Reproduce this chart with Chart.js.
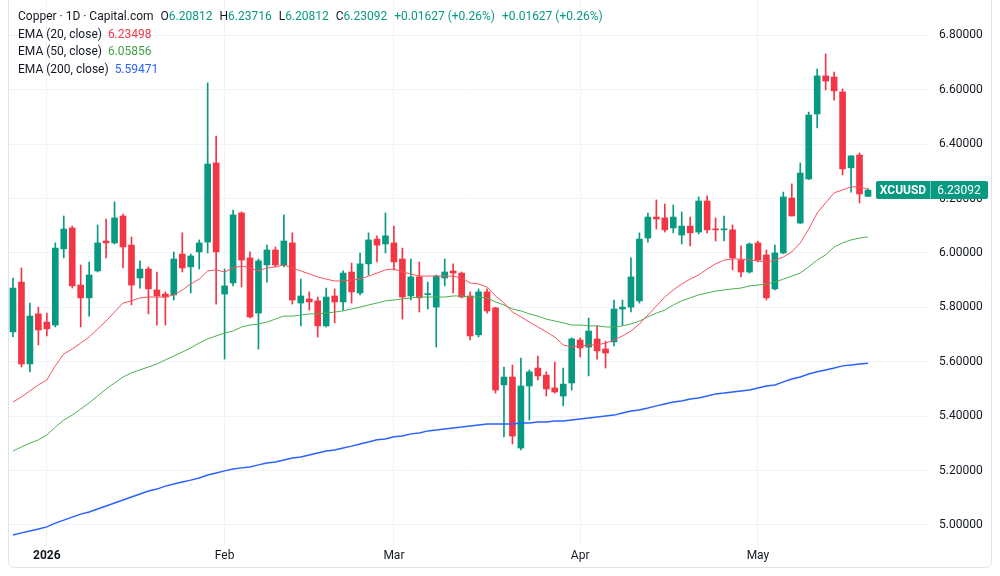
<!DOCTYPE html>
<html>
<head>
<meta charset="utf-8">
<title>Copper · 1D · Capital.com</title>
<script src="https://cdn.jsdelivr.net/npm/chart.js@4.4.1/dist/chart.umd.min.js"></script>
<style>
  html, body { margin: 0; padding: 0; background: #fff; }
  #wrap { position: relative; width: 1000px; height: 576px; }
  #legend {
    position: absolute; left: 18px; top: 8px;
    font: 12px Roboto, "Noto Sans", sans-serif; color: #131722;
    line-height: 17.6px; white-space: nowrap; pointer-events: none;
  }
  #legend .gap { margin-left: 7px; }
  #legend .up { color: #089981; }
  .ema20 { color: #F23645; }
  .ema50 { color: #43A047; }
  .ema200 { color: #2962FF; }
</style>
</head>
<body>
<div id="wrap">
  <canvas id="chart" width="1000" height="576"></canvas>
  <div id="legend">
    <div>Copper · 1D · Capital.com<span class="gap">O</span><span class="up">6.20812</span><span class="gap">H</span><span class="up">6.23716</span><span class="gap">L</span><span class="up">6.20812</span><span class="gap">C</span><span class="up">6.23092</span><span class="gap up">+0.01627 (+0.26%)</span><span class="gap up">+0.01627 (+0.26%)</span></div>
    <div>EMA (20, close)&nbsp; <span class="ema20">6.23498</span></div>
    <div>EMA (50, close)&nbsp; <span class="ema50">6.05856</span></div>
    <div>EMA (200, close)&nbsp; <span class="ema200">5.59471</span></div>
  </div>
</div>
<script>
// ── Data (daily candles, late Dec 2025 → 20 May 2026) ──

var opens = [5.710,5.893,5.592,5.776,5.746,5.735,6.015,6.092,5.882,5.835,
  5.934,6.044,6.037,6.136,6.029,5.908,5.941,5.864,5.849,5.846,
  5.996,5.949,6.004,6.040,6.331,5.849,5.890,6.147,5.982,5.779,
  5.956,6.011,5.956,6.037,5.816,5.831,5.824,5.732,5.842,5.820,
  5.930,5.853,5.960,6.051,6.033,6.037,5.978,5.842,5.912,5.847,
  5.801,5.908,5.934,5.926,5.842,5.699,5.857,5.798,5.515,5.544,
  5.283,5.511,5.577,5.551,5.504,5.474,5.522,5.680,5.654,5.684,
  5.647,5.673,5.794,5.801,5.824,6.055,6.132,6.129,6.092,6.066,
  6.099,6.077,6.191,6.088,6.085,6.085,5.974,5.930,6.037,5.993,
  5.868,6.000,6.202,6.110,6.272,6.511,6.651,6.647,6.592,6.313,
  6.360,6.20812];

var highs = [5.908,5.945,5.816,5.801,5.779,6.037,6.136,6.099,5.956,5.967,
  6.103,6.125,6.188,6.143,6.059,5.971,5.949,5.930,5.857,6.004,
  6.074,5.996,6.048,6.625,6.430,5.941,6.158,6.151,6.004,5.978,
  6.029,6.022,6.140,6.074,5.904,5.857,5.838,5.871,5.868,5.934,
  5.963,6.000,6.074,6.063,6.147,6.099,6.018,5.978,5.967,5.893,
  5.919,5.978,5.960,5.930,5.857,5.868,5.868,5.801,5.581,5.588,
  5.614,5.570,5.621,5.563,5.599,5.577,5.688,5.688,5.761,5.732,
  5.676,5.827,5.827,5.982,6.074,6.147,6.195,6.180,6.176,6.151,
  6.132,6.206,6.210,6.129,6.136,6.103,6.026,6.037,6.044,6.011,
  6.029,6.224,6.254,6.331,6.518,6.676,6.732,6.665,6.603,6.357,
  6.368,6.23716];

var lows = [5.692,5.581,5.563,5.662,5.695,5.728,5.982,5.871,5.728,5.768,
  5.930,5.982,6.033,5.945,5.809,5.871,5.776,5.735,5.735,5.827,
  5.930,5.853,5.941,6.000,5.812,5.610,5.879,5.875,5.761,5.647,
  5.893,5.949,5.949,5.812,5.732,5.790,5.691,5.728,5.743,5.790,
  5.816,5.846,5.919,5.967,6.000,5.938,5.757,5.827,5.783,5.794,
  5.654,5.879,5.853,5.835,5.680,5.691,5.779,5.485,5.324,5.298,
  5.276,5.386,5.533,5.474,5.485,5.438,5.496,5.618,5.548,5.610,
  5.577,5.658,5.735,5.783,5.816,6.040,6.088,6.077,6.074,6.033,
  6.026,6.070,6.074,6.044,6.044,5.938,5.912,5.926,5.967,5.827,
  5.864,5.997,6.136,6.108,6.270,6.460,6.599,6.562,6.287,6.224,
  6.184,6.20812];

var closes = [5.871,5.592,5.768,5.717,5.721,6.018,6.088,5.879,5.835,5.919,
  6.037,6.037,6.129,6.022,5.882,5.941,5.868,5.842,5.838,5.978,
  5.945,5.989,6.037,6.327,6.004,5.879,6.140,5.974,5.765,5.971,
  6.011,5.956,6.044,5.827,5.842,5.820,5.732,5.838,5.820,5.926,
  5.857,5.960,6.048,6.029,6.063,5.967,5.838,5.912,5.835,5.849,
  5.915,5.930,5.926,5.838,5.695,5.857,5.787,5.496,5.544,5.327,
  5.511,5.563,5.548,5.500,5.489,5.518,5.684,5.651,5.713,5.640,
  5.632,5.794,5.801,5.912,6.051,6.132,6.125,6.085,6.132,6.099,
  6.074,6.191,6.085,6.085,6.088,5.982,5.930,6.033,5.974,5.835,
  6.000,6.206,6.136,6.294,6.507,6.651,6.632,6.596,6.309,6.357,
  6.217,6.23092];

var ema20 = [5.452,5.471,5.493,5.515,5.533,5.585,5.629,5.647,5.669,5.691,
  5.721,5.750,5.783,5.816,5.824,5.835,5.838,5.838,5.838,5.846,
  5.864,5.886,5.904,5.934,5.938,5.930,5.945,5.952,5.945,5.934,
  5.945,5.949,5.956,5.945,5.934,5.923,5.912,5.904,5.897,5.897,
  5.901,5.904,5.915,5.926,5.938,5.941,5.930,5.923,5.915,5.915,
  5.915,5.915,5.915,5.908,5.890,5.886,5.875,5.842,5.816,5.783,
  5.765,5.746,5.728,5.710,5.691,5.662,5.654,5.658,5.662,5.662,
  5.669,5.680,5.695,5.713,5.739,5.772,5.805,5.838,5.864,5.886,
  5.904,5.919,5.941,5.960,5.974,5.978,5.978,5.974,5.971,5.967,
  5.974,5.985,6.004,6.037,6.088,6.147,6.184,6.221,6.232,6.243,
  6.243,6.235];

var ema50 = [5.272,5.287,5.301,5.313,5.331,5.360,5.386,5.404,5.426,5.449,
  5.474,5.500,5.522,5.544,5.559,5.570,5.581,5.592,5.607,5.621,
  5.636,5.651,5.669,5.684,5.695,5.706,5.713,5.728,5.735,5.739,
  5.746,5.757,5.768,5.768,5.772,5.776,5.776,5.779,5.783,5.787,
  5.794,5.801,5.809,5.816,5.824,5.827,5.831,5.835,5.838,5.838,
  5.838,5.838,5.842,5.842,5.838,5.838,5.835,5.820,5.809,5.794,
  5.787,5.776,5.768,5.757,5.750,5.743,5.735,5.735,5.732,5.732,
  5.728,5.728,5.732,5.739,5.750,5.765,5.779,5.790,5.809,5.824,
  5.835,5.846,5.853,5.860,5.864,5.868,5.871,5.879,5.882,5.886,
  5.893,5.904,5.915,5.926,5.949,5.974,5.993,6.022,6.037,6.048,
  6.055,6.059];

var ema200 = [4.963,4.971,4.978,4.985,4.993,5.007,5.018,5.029,5.040,5.048,
  5.059,5.070,5.081,5.092,5.103,5.114,5.125,5.132,5.143,5.151,
  5.158,5.165,5.173,5.184,5.191,5.199,5.206,5.210,5.213,5.221,
  5.228,5.232,5.239,5.246,5.250,5.257,5.265,5.272,5.276,5.283,
  5.290,5.298,5.305,5.313,5.316,5.324,5.327,5.335,5.338,5.346,
  5.349,5.353,5.357,5.360,5.364,5.368,5.371,5.371,5.371,5.371,
  5.375,5.375,5.379,5.379,5.382,5.382,5.386,5.390,5.393,5.397,
  5.401,5.404,5.412,5.419,5.423,5.430,5.438,5.445,5.452,5.456,
  5.463,5.467,5.474,5.482,5.485,5.489,5.493,5.496,5.504,5.511,
  5.515,5.526,5.537,5.544,5.555,5.563,5.570,5.577,5.585,5.588,
  5.592,5.595];

// bar index of the first session of each month, and its axis text
var monthTicks = [4, 25, 45, 67, 88];
var monthLabels = ['2026', 'Feb', 'Mar', 'Apr', 'May'];
var yTicks = [5.0, 5.2, 5.4, 5.6, 5.8, 6.0, 6.2, 6.4, 6.6, 6.8];
var symbol = 'XCUUSD';

// ── Colours ──

var UP = '#089981';
var DOWN = '#F23645';
var GRID = '#f0f3fa';

function candleColor(i) {
  return closes[i] >= opens[i] ? UP : DOWN;
}

function points(arr) {
  return arr.map(function(v, i) { return { x: i, y: v }; });
}

// ── Plugins: frame + last price tag ──

var framePlugin = {
  id: 'frame',
  afterDraw: function(chart) {
    var ctx = chart.ctx;
    ctx.save();
    ctx.strokeStyle = '#e0e3eb';
    ctx.lineWidth = 1;
    ctx.beginPath();
    ctx.roundRect(8.5, -8, 983, 575.5, 6);
    ctx.stroke();
    ctx.restore();
  }
};

var priceTagPlugin = {
  id: 'priceTag',
  afterDraw: function(chart) {
    var ctx = chart.ctx;
    var last = closes.length - 1;
    var y = Math.round(chart.scales.y.getPixelForValue(closes[last]));
    ctx.save();
    ctx.fillStyle = UP;
    ctx.beginPath();
    ctx.roundRect(876, y - 9, 112, 18, 2);
    ctx.fill();
    ctx.fillStyle = 'rgba(255,255,255,0.45)';
    ctx.fillRect(930, y - 9, 1, 18);
    ctx.fillStyle = '#fff';
    ctx.textAlign = 'center';
    ctx.textBaseline = 'middle';
    ctx.font = 'bold 12px Roboto, sans-serif';
    ctx.fillText(symbol, 903, y + 1);
    ctx.font = '12px Roboto, sans-serif';
    ctx.fillText(closes[last].toFixed(5), 959, y + 1);
    ctx.restore();
  }
};

// ── Chart ──

function initChart() {
  var canvas = document.getElementById('chart');
  var colors = opens.map(function(_, i) { return candleColor(i); });

  new Chart(canvas, {
    type: 'bar',
    data: {
      datasets: [
        {
          type: 'line', label: 'EMA 20', data: points(ema20),
          borderColor: '#F7525F', borderWidth: 1, pointRadius: 0, tension: 0
        },
        {
          type: 'line', label: 'EMA 50', data: points(ema50),
          borderColor: '#4CAF50', borderWidth: 1, pointRadius: 0, tension: 0
        },
        {
          type: 'line', label: 'EMA 200', data: points(ema200),
          borderColor: '#2962FF', borderWidth: 1.5, pointRadius: 0, tension: 0
        },
        {
          label: 'Body',
          data: opens.map(function(o, i) { return { x: i, y: [o, closes[i]] }; }),
          backgroundColor: colors, barThickness: 6, minBarLength: 1,
          grouped: false, borderWidth: 0
        },
        {
          label: 'Wick',
          data: opens.map(function(_, i) { return { x: i, y: [lows[i], highs[i]] }; }),
          backgroundColor: colors, barThickness: 1,
          grouped: false, borderWidth: 0
        }
      ]
    },
    options: {
      responsive: false,
      animation: false,
      events: [],
      layout: { padding: { left: 9, top: 0, right: 0, bottom: 0 } },
      plugins: { legend: { display: false }, tooltip: { enabled: false } },
      scales: {
        x: {
          type: 'linear',
          offset: false,
          min: -0.47,
          max: 108.09,
          grid: { color: GRID, drawTicks: false, offset: false },
          border: { display: false },
          afterBuildTicks: function(s) {
            s.ticks = monthTicks.map(function(v) { return { value: v }; });
          },
          afterFit: function(s) { s.height = 30; s.paddingLeft = 0; s.paddingRight = 0; },
          ticks: {
            padding: 3,
            color: '#131722',
            maxRotation: 0,
            autoSkip: false,
            font: function(c) {
              var bold = c.tick && c.tick.value === monthTicks[0];
              return { family: 'Roboto, sans-serif', size: 12, weight: bold ? 'bold' : 'normal' };
            },
            callback: function(v) { return monthLabels[monthTicks.indexOf(v)]; }
          }
        },
        y: {
          type: 'linear',
          position: 'right',
          min: 4.9228,
          max: 6.930,
          grid: { color: GRID, drawTicks: false },
          border: { display: false },
          afterBuildTicks: function(s) {
            s.ticks = yTicks.map(function(v) { return { value: v }; });
          },
          afterFit: function(s) { s.width = 72; s.paddingTop = 0; s.paddingBottom = 0; },
          ticks: {
            padding: 11,
            color: '#131722',
            font: { family: 'Roboto, sans-serif', size: 12 },
            callback: function(v) { return v.toFixed(5); }
          }
        }
      }
    },
    plugins: [framePlugin, priceTagPlugin]
  });
}

initChart();
</script>
</body>
</html>
